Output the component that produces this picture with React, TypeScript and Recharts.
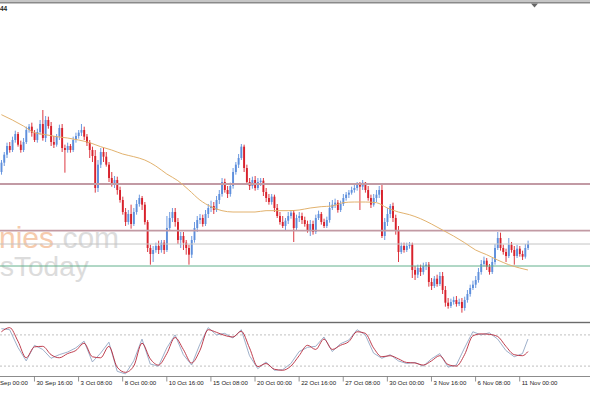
import React from 'react';
import { ComposedChart, Bar, Line, XAxis, YAxis, ReferenceLine } from 'recharts';

// EUR/USD H4 candles, prices in pips (1 pip = 0.0001)
const OPEN = [
  11682, 11696, 11708, 11721, 11715, 11730, 11739, 11723, 11715, 11727, 11745, 11750, 11741, 11730, 11742, 11754,
  11733, 11760, 11751, 11727, 11723, 11735, 11748, 11718, 11715, 11721, 11715, 11730, 11736, 11741, 11745, 11735,
  11726, 11715, 11706, 11658, 11693, 11712, 11705, 11693, 11673, 11663, 11670, 11655, 11640, 11622, 11607, 11619,
  11604, 11622, 11634, 11643, 11633, 11607, 11568, 11559, 11565, 11571, 11565, 11576, 11565, 11598, 11613, 11622,
  11607, 11580, 11586, 11576, 11568, 11558, 11580, 11598, 11610, 11613, 11604, 11619, 11628, 11631, 11625, 11640,
  11649, 11667, 11655, 11649, 11661, 11682, 11693, 11703, 11720, 11688, 11667, 11661, 11670, 11658, 11667, 11669,
  11652, 11643, 11637, 11645, 11628, 11616, 11607, 11601, 11609, 11616, 11621, 11598, 11613, 11616, 11610, 11604,
  11595, 11604, 11592, 11613, 11619, 11607, 11601, 11610, 11628, 11633, 11636, 11625, 11634, 11643, 11648, 11651,
  11655, 11658, 11663, 11660, 11666, 11655, 11643, 11633, 11643, 11648, 11655, 11586, 11607, 11619, 11631, 11613,
  11595, 11562, 11571, 11565, 11571, 11573, 11535, 11528, 11538, 11532, 11541, 11543, 11517, 11511, 11522, 11514,
  11526, 11505, 11486, 11481, 11487, 11490, 11484, 11487, 11478, 11490, 11499, 11508, 11513, 11520, 11532, 11544,
  11549, 11540, 11532, 11547, 11568, 11583, 11568, 11562, 11556, 11573, 11565, 11556, 11567, 11559, 11555, 11568,
];
const HIGH = [
  11700, 11712, 11726, 11727, 11735, 11744, 11742, 11729, 11733, 11750, 11754, 11756, 11745, 11747, 11760, 11775,
  11766, 11765, 11757, 11736, 11739, 11753, 11754, 11723, 11726, 11724, 11735, 11741, 11745, 11754, 11750, 11739,
  11730, 11720, 11715, 11700, 11718, 11718, 11712, 11697, 11682, 11676, 11675, 11660, 11645, 11628, 11625, 11633,
  11628, 11640, 11648, 11646, 11637, 11610, 11573, 11571, 11576, 11579, 11580, 11580, 11616, 11622, 11628, 11628,
  11613, 11592, 11592, 11580, 11573, 11586, 11607, 11616, 11619, 11618, 11625, 11634, 11639, 11637, 11646, 11655,
  11673, 11672, 11661, 11666, 11688, 11697, 11709, 11724, 11723, 11693, 11673, 11675, 11676, 11673, 11673, 11673,
  11658, 11649, 11649, 11648, 11634, 11622, 11616, 11613, 11622, 11625, 11625, 11618, 11622, 11621, 11615, 11609,
  11610, 11609, 11618, 11624, 11622, 11612, 11615, 11637, 11640, 11642, 11640, 11639, 11649, 11652, 11655, 11660,
  11663, 11667, 11667, 11670, 11667, 11661, 11648, 11649, 11655, 11661, 11664, 11613, 11628, 11634, 11636, 11618,
  11601, 11576, 11576, 11576, 11577, 11576, 11541, 11543, 11543, 11546, 11547, 11547, 11523, 11526, 11528, 11532,
  11532, 11511, 11493, 11492, 11495, 11496, 11492, 11493, 11495, 11505, 11513, 11519, 11526, 11538, 11550, 11555,
  11553, 11544, 11553, 11574, 11592, 11591, 11573, 11567, 11583, 11577, 11571, 11573, 11571, 11564, 11574, 11579,
];
const LOW = [
  11678, 11691, 11703, 11711, 11712, 11726, 11720, 11711, 11712, 11724, 11741, 11735, 11727, 11726, 11738, 11729,
  11727, 11747, 11721, 11718, 11720, 11730, 11712, 11681, 11711, 11711, 11712, 11726, 11732, 11736, 11730, 11721,
  11703, 11697, 11651, 11652, 11688, 11697, 11690, 11667, 11660, 11658, 11648, 11636, 11618, 11601, 11603, 11597,
  11601, 11618, 11630, 11625, 11603, 11562, 11543, 11547, 11561, 11559, 11561, 11559, 11562, 11595, 11607, 11600,
  11574, 11568, 11565, 11558, 11543, 11553, 11576, 11592, 11604, 11600, 11601, 11613, 11622, 11619, 11622, 11634,
  11645, 11651, 11643, 11645, 11657, 11678, 11688, 11700, 11682, 11663, 11655, 11657, 11654, 11655, 11661, 11646,
  11637, 11633, 11633, 11622, 11613, 11603, 11598, 11595, 11604, 11612, 11577, 11595, 11607, 11604, 11600, 11591,
  11586, 11588, 11589, 11610, 11603, 11598, 11598, 11606, 11625, 11628, 11621, 11622, 11631, 11639, 11643, 11648,
  11651, 11654, 11625, 11655, 11651, 11639, 11628, 11630, 11637, 11643, 11583, 11580, 11601, 11613, 11607, 11588,
  11547, 11559, 11561, 11562, 11567, 11523, 11520, 11523, 11526, 11528, 11535, 11510, 11505, 11508, 11510, 11511,
  11499, 11480, 11477, 11478, 11483, 11480, 11481, 11471, 11474, 11486, 11495, 11505, 11508, 11516, 11528, 11540,
  11535, 11528, 11529, 11543, 11565, 11564, 11558, 11547, 11553, 11561, 11543, 11553, 11555, 11550, 11552, 11565,
];
const CLOSE = [
  11696, 11708, 11721, 11715, 11730, 11739, 11723, 11715, 11727, 11745, 11750, 11741, 11730, 11742, 11754, 11733,
  11760, 11751, 11727, 11723, 11735, 11748, 11718, 11715, 11721, 11715, 11730, 11736, 11741, 11745, 11735, 11726,
  11715, 11706, 11658, 11693, 11712, 11705, 11693, 11673, 11663, 11670, 11655, 11640, 11622, 11607, 11619, 11604,
  11622, 11634, 11643, 11633, 11607, 11568, 11559, 11565, 11571, 11565, 11576, 11565, 11598, 11613, 11622, 11607,
  11580, 11586, 11576, 11568, 11558, 11580, 11598, 11610, 11613, 11604, 11619, 11628, 11631, 11625, 11640, 11649,
  11667, 11655, 11649, 11661, 11682, 11693, 11703, 11720, 11688, 11667, 11661, 11670, 11658, 11667, 11669, 11652,
  11643, 11637, 11645, 11628, 11616, 11607, 11601, 11609, 11616, 11621, 11598, 11613, 11616, 11610, 11604, 11595,
  11604, 11592, 11613, 11619, 11607, 11601, 11610, 11628, 11633, 11636, 11625, 11634, 11643, 11648, 11651, 11655,
  11658, 11663, 11660, 11666, 11655, 11643, 11633, 11643, 11648, 11655, 11586, 11607, 11619, 11631, 11613, 11595,
  11562, 11571, 11565, 11571, 11573, 11535, 11528, 11538, 11532, 11541, 11543, 11517, 11511, 11522, 11514, 11526,
  11505, 11486, 11481, 11487, 11490, 11484, 11487, 11478, 11490, 11499, 11508, 11513, 11520, 11532, 11544, 11549,
  11540, 11532, 11547, 11568, 11583, 11568, 11562, 11556, 11573, 11565, 11556, 11567, 11559, 11555, 11568, 11574,
];

// moving average, read every 4th bar (plus the last one)
const MA = [
  11768, 11760, 11751, 11741, 11738, 11735, 11733, 11730, 11726, 11720, 11715, 11709, 11705, 11700, 11691, 11679,
  11669, 11655, 11640, 11630, 11624, 11622, 11622, 11622, 11624, 11624, 11624, 11625, 11628, 11630, 11631, 11636,
  11637, 11637, 11636, 11628, 11622, 11618, 11612, 11604, 11595, 11586, 11576, 11565, 11558, 11550, 11543, 11538,
  11535,
];

// stochastic %K / %D, read every 3rd bar (plus the last one)
const STO_K = [
  92, 90, 56, 30, 60, 52, 35, 42, 47, 55, 68, 28, 45, 66, 10, 5, 30, 72, 24, 20, 55, 80, 42, 22, 62, 94, 80, 83, 74, 90,
  40, 15, 28, 12, 13, 25, 48, 56, 58, 76, 48, 63, 70, 90, 80, 45, 35, 42, 30, 25, 27, 20, 34, 44, 18, 22, 55, 86, 80, 84,
  72, 50, 38, 44, 72,
];
const STO_D = [
  86, 94, 68, 36, 57, 58, 42, 36, 44, 50, 64, 38, 36, 58, 18, 8, 20, 64, 34, 22, 44, 75, 52, 26, 50, 90, 85, 79, 76, 87,
  55, 19, 25, 14, 12, 20, 40, 60, 52, 72, 52, 60, 67, 86, 83, 55, 38, 40, 34, 27, 26, 22, 30, 40, 23, 20, 42, 78, 82, 81,
  77, 58, 42, 40, 48,
];

const TICK_BARS = [12, 28, 44, 60, 76, 92, 108, 124, 140, 156, 172, 188];
const TICK_LABELS = [
  '30 Sep 16:00', '3 Oct 08:00', '8 Oct 00:00', '10 Oct 16:00', '15 Oct 08:00', '20 Oct 00:00',
  '22 Oct 16:00', '27 Oct 08:00', '30 Oct 00:00', '3 Nov 16:00', '6 Nov 08:00', '11 Nov 00:00',
];

const LEVEL_HIGH = 1.1664;
const LEVEL_MID = 1.1594;
const LEVEL_LOW = 1.1541;
const BID = CLOSE[CLOSE.length - 1] / 1e4;

const W = 590;
const SLOTS = 214; // bars plus the empty shift space on the right
const BULL = '#5e8fdc';
const BEAR = '#d8212b';
const FONT = '"Liberation Sans", Arial, sans-serif';
const AX_Y = 56.5;

const last = CLOSE.length - 1;
const MA_BARS = [...Array.from({ length: 48 }, (_, j) => j * 4), last];
const STO_BARS = [...Array.from({ length: 64 }, (_, j) => j * 3), last];

const maAt = new Map(MA_BARS.map((b, j) => [b, MA[j]]));
const kAt = new Map(STO_BARS.map((b, j) => [b, STO_K[j]]));
const dAt = new Map(STO_BARS.map((b, j) => [b, STO_D[j]]));

const rows = Array.from({ length: SLOTS }, (_, i) => {
  const has = i < CLOSE.length;
  return {
    i,
    open: has ? OPEN[i] / 1e4 : null,
    high: has ? HIGH[i] / 1e4 : null,
    low: has ? LOW[i] / 1e4 : null,
    close: has ? CLOSE[i] / 1e4 : null,
    ma: maAt.has(i) ? (maAt.get(i) as number) / 1e4 : null,
    k: kAt.has(i) ? kAt.get(i) : null,
    d: dAt.has(i) ? dAt.get(i) : null,
  };
});

const candleRange = (d: any) => (d.high == null ? null : [d.low, d.high]);

function Candle(props: any) {
  const { x, y, width, height, payload } = props;
  if (!payload || payload.high == null || !isFinite(y)) return null;
  const { open, close, high, low } = payload;
  const top = Math.min(y, y + height);
  const h = Math.abs(height);
  const span = high - low || 1e-9;
  const py = (v: number) => top + ((high - v) / span) * h;
  const cx = x + width / 2;
  const color = close >= open ? BULL : BEAR;
  const bTop = py(Math.max(open, close));
  const bBot = py(Math.min(open, close));
  const bw = 1.9;
  return (
    <g>
      <line x1={cx} x2={cx} y1={top} y2={top + h} stroke={color} strokeWidth={0.9} />
      <rect x={cx - bw / 2} y={bTop} width={bw} height={Math.max(bBot - bTop, 0.8)} fill={color} />
    </g>
  );
}

function DateTick(props: any) {
  const { x, payload } = props;
  const k = TICK_BARS.indexOf(payload.value);
  if (k < 0) return null;
  return (
    <g>
      <line x1={x} x2={x} y1={AX_Y} y2={AX_Y + 5} stroke="#777" strokeWidth={0.8} />
      <text x={x + 2} y={AX_Y + 8.5} fontSize={6.1} fill="#222" fontFamily={FONT} textAnchor="start">
        {TICK_LABELS[k]}
      </text>
    </g>
  );
}

export default function App() {
  return (
    <div style={{ position: 'absolute', left: 0, top: 0, width: W, height: 393, background: '#fff', overflow: 'hidden' }}>
      <svg width={W} height={393} style={{ position: 'absolute', left: 0, top: 0 }}>
        <text x={-1} y={248} fontSize={30} fontFamily={FONT}>
          <tspan fill="#f6cbad">nies</tspan>
          <tspan fill="#dcdcdc">.com</tspan>
        </text>
        <text x={0} y={276} fontSize={28} fontFamily={FONT} fill="#dcdcdc">sToday</text>
      </svg>

      <div style={{ position: 'absolute', left: 0, top: 0 }}>
        <ComposedChart width={W} height={320} data={rows} margin={{ top: 4, right: 0, bottom: 1, left: 0 }} barCategoryGap={0}>
          <XAxis dataKey="i" type="category" scale="band" hide />
          <YAxis type="number" domain={[1.14615, 1.1934]} allowDataOverflow hide />
          <ReferenceLine y={LEVEL_HIGH} stroke="#c29aa4" strokeWidth={1.8} />
          <ReferenceLine y={LEVEL_MID} stroke="#c29aa4" strokeWidth={1.8} />
          <ReferenceLine y={BID} stroke="#c4c4c4" strokeWidth={1} />
          <ReferenceLine y={LEVEL_LOW} stroke="#62b08c" strokeWidth={1} />
          <Bar dataKey={candleRange} shape={(p: any) => <Candle {...p} />} isAnimationActive={false} />
          <Line dataKey="ma" type="monotone" stroke="#e2b26e" strokeWidth={1} dot={false} activeDot={false} connectNulls isAnimationActive={false} />
        </ComposedChart>
      </div>

      <div style={{ position: 'absolute', left: 0, top: 320 }}>
        <ComposedChart width={W} height={73} data={rows} margin={{ top: 4.5, right: 0, bottom: 0, left: 0 }}>
          <XAxis
            dataKey="i"
            type="category"
            scale="band"
            height={16.5}
            ticks={TICK_BARS}
            interval={0}
            axisLine={{ stroke: '#8c8c8c' }}
            tickLine={false}
            tick={(p: any) => <DateTick {...p} />}
          />
          <YAxis type="number" domain={[0, 100]} hide />
          <ReferenceLine y={80} stroke="#b0b0b0" strokeWidth={0.8} strokeDasharray="2 2" />
          <ReferenceLine y={20} stroke="#b0b0b0" strokeWidth={0.8} strokeDasharray="2 2" />
          <Line dataKey="k" type="linear" stroke="#93a7c4" strokeWidth={0.9} dot={false} activeDot={false} connectNulls isAnimationActive={false} />
          <Line dataKey="d" type="monotone" stroke="#b8283a" strokeWidth={0.9} dot={false} activeDot={false} connectNulls isAnimationActive={false} />
        </ComposedChart>
      </div>

      <svg width={W} height={393} style={{ position: 'absolute', left: 0, top: 0, pointerEvents: 'none' }}>
        <rect x={0} y={0} width={W} height={2} fill="#c6c6c6" />
        <rect x={0} y={2} width={W} height={1.5} fill="#8a8a8a" />
        <polygon points="531,3.5 538,3.5 534.5,7.5" fill="#666" />
        <text x={0} y={11} fontSize={6.5} fontWeight="bold" fontFamily={FONT} fill="#222">44</text>
        <rect x={0} y={321.8} width={W} height={1.4} fill="#6b6b6b" />
        <text x={0} y={385} fontSize={6.1} fill="#222" fontFamily={FONT}>Sep 00:00</text>
      </svg>
    </div>
  );
}
